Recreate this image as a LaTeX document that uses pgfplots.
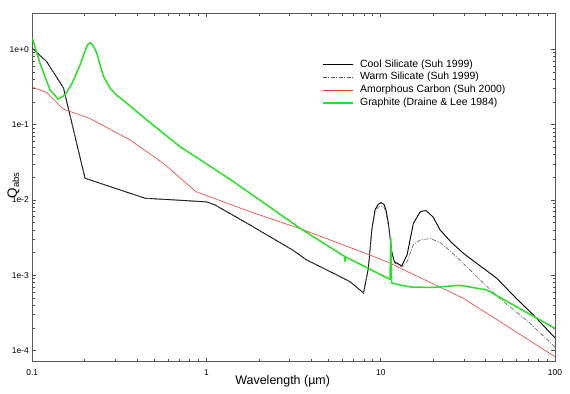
\documentclass[border=0pt]{standalone}
\usepackage{fontspec}
\setmainfont{Liberation Sans}
\usepackage{pgfplots}
\pgfplotsset{compat=1.18}
\definecolor{agreen}{RGB}{40,225,40}
\definecolor{ared}{RGB}{235,60,50}
\begin{document}
\begin{tikzpicture}
\path[use as bounding box] (-32.3bp,-32.3bp) rectangle (537.7bp,361.7bp);
\begin{axis}[
  at={(0,0)}, anchor=south west,
  scale only axis, width=522.7bp, height=348.4bp,
  xmode=log, ymode=log,
  xmin=0.1, xmax=100, ymin=7.1e-5, ymax=3.0,
  xtick={0.1,1,10,100}, xticklabels={0.1,1,10,100},
  ytick={1e-4,1e-3,1e-2,1e-1,1}, yticklabels={1e-4,1e-3,1e-2,1e-1,1e+0},
  tick label style={font=\fontsize{8.5}{9}\selectfont},
  xticklabel style={yshift=-4bp},
  /pgf/number format/assume math mode=true,
  major tick length=4bp, minor tick length=2.5bp,
  axis line style={black!65, line width=0.9bp},
  tick style={black!70, line width=0.6bp},
  xlabel={Wavelength (µm)}, ylabel={Q\textsubscript{abs}},
  xlabel style={at={(axis description cs:0.479,-0.0574)}, anchor=center, font=\fontsize{12.5}{14}\selectfont},
  ylabel style={at={(axis description cs:-0.036,0.507)}, anchor=center, font=\fontsize{13.5}{14}\selectfont},
  every axis plot/.append style={mark=none},
]
\addplot[black, line width=0.9bp] table {
0.1 1.03
0.121 0.684
0.151 0.306
0.2007 0.01936
0.4436 0.0105
0.659 0.00997
1.0 0.0094
1.119 0.00855
1.777 0.00464
3.148 0.00213
3.758 0.00159
4.484 0.0013
6.665 0.00082
7.965 0.00058
8.49 0.00124
8.88 0.00398
9.27 0.00734
9.65 0.00869
10.04 0.00918
10.44 0.00869
10.72 0.00734
11.06 0.00489
11.57 0.00205
11.97 0.00151
13.2 0.00133
14.16 0.00186
15.39 0.00489
16.81 0.0069
17.49 0.00712
18.2 0.00719
19.96 0.00593
21.9 0.00398
25.3 0.00276
29.8 0.00195
46.3 0.00091
60.4 0.000483
75.2 0.000296
100 0.000147
};
\addplot[black!65, line width=0.6bp, dash pattern=on 4bp off 1.5bp on 1bp off 1.5bp] table {
0.1 1.03
0.121 0.684
0.151 0.306
0.2007 0.01936
0.4436 0.0105
0.659 0.00997
1.0 0.0094
1.119 0.00855
1.777 0.00464
3.148 0.00213
3.758 0.00159
4.484 0.0013
6.665 0.00082
7.965 0.00058
8.49 0.00124
8.88 0.00398
9.27 0.0067
9.65 0.0080
10.04 0.0083
10.44 0.0080
10.72 0.0067
11.06 0.0045
11.57 0.00196
11.97 0.00146
13.2 0.00129
14.16 0.0015
15.33 0.00252
16.81 0.00293
19.19 0.00307
21.9 0.00272
25.0 0.0021
31.2 0.00129
46.3 0.00053
71.9 0.00023
100 0.000111
};
\addplot[ared, line width=0.6bp] table {
0.1 0.313
0.121 0.267
0.151 0.16
0.2143 0.1205
0.364 0.0624
0.565 0.0306
0.87 0.01285
1.777 0.00697
3.44 0.00415
7.28 0.00216
10.83 0.00151
29.8 0.000493
100 8.27e-5
};
\addplot[agreen, line width=1.5bp, line join=round] table {
0.1 1.41
0.1107 0.652
0.1264 0.288
0.141 0.217
0.154 0.247
0.17 0.36
0.189 0.638
0.2007 0.95
0.2075 1.14
0.2143 1.224
0.2225 1.14
0.234 0.90
0.2557 0.44
0.279 0.306
0.305 0.245
0.333 0.210
0.4536 0.115
0.705 0.0509
1.365 0.01877
3.44 0.0042
6.20 0.00177
6.24 0.00152
6.28 0.00175
11.30 0.00088
11.42 0.0031
11.55 0.00079
12.91 0.000741
14.72 0.000697
20.04 0.000687
28.5 0.000734
40.6 0.000636
57.7 0.000402
100 0.000197
};
% legend
\begin{scope}[every node/.style={anchor=west, inner sep=0pt, text=black, font=\fontsize{10.5}{12}\selectfont}]
\draw[black, line width=0.9bp] (axis description cs:0.556,0.853) -- (axis description cs:0.6134,0.853);
\node at (axis description cs:0.6268,0.853) {Cool Silicate (Suh 1999)};
\draw[black!65, line width=0.6bp, dash pattern=on 4bp off 1.5bp on 1bp off 1.5bp] (axis description cs:0.556,0.817) -- (axis description cs:0.6134,0.817);
\node at (axis description cs:0.6268,0.817) {Warm Silicate (Suh 1999)};
\draw[ared, line width=0.6bp] (axis description cs:0.556,0.780) -- (axis description cs:0.6134,0.780);
\node at (axis description cs:0.6268,0.780) {Amorphous Carbon (Suh 2000)};
\draw[agreen, line width=1.6bp] (axis description cs:0.556,0.743) -- (axis description cs:0.6134,0.743);
\node at (axis description cs:0.6268,0.743) {Graphite (Draine \& Lee 1984)};
\end{scope}
\end{axis}
\end{tikzpicture}
\end{document}
